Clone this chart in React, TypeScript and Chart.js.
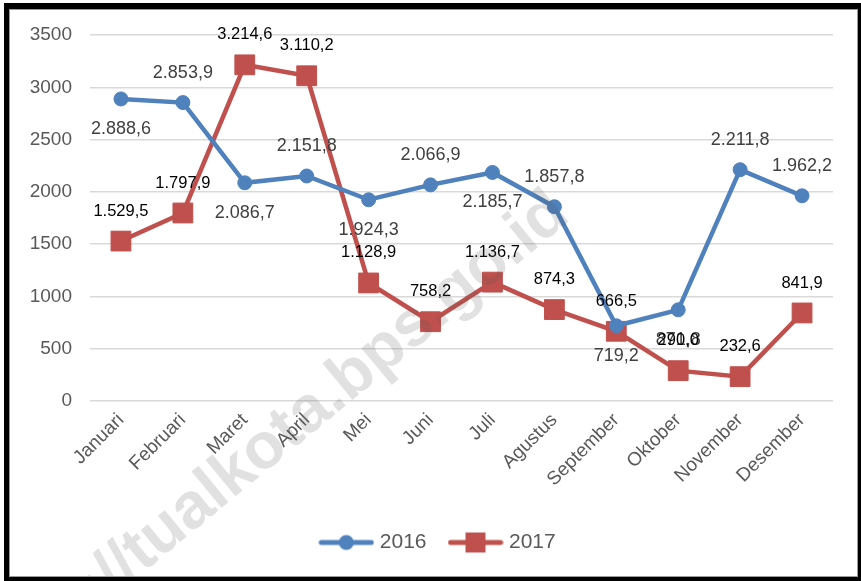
import React, { useEffect, useRef } from 'react';
import { Chart, registerables } from 'chart.js';

Chart.register(...registerables);

const months = ['Januari', 'Februari', 'Maret', 'April', 'Mei', 'Juni', 'Juli', 'Agustus', 'September', 'Oktober', 'November', 'Desember'];
const values2016 = [2888.6, 2853.9, 2086.7, 2151.8, 1924.3, 2066.9, 2185.7, 1857.8, 719.2, 871.8, 2211.8, 1962.2];
const values2017 = [1529.5, 1797.9, 3214.6, 3110.2, 1128.9, 758.2, 1136.7, 874.3, 666.5, 290.0, 232.6, 841.9];
const labelSide2016 = ['below', 'above', 'below', 'above', 'below', 'above', 'below', 'above', 'below', 'below', 'above', 'above'];
const labelSide2017 = ['above', 'above', 'above', 'above', 'above', 'above', 'above', 'above', 'above', 'above', 'above', 'above'];
const yMin = 0;
const yMax = 3500;
const yStep = 500;
const watermarkText = 'https://tualkota.bps.go.id';

const BLUE = '#4F81BD';
const RED = '#C0504D';
const FONT = "'Liberation Sans', Arial, sans-serif";

function formatId(v: number): string {
  const [intPart, dec] = v.toFixed(1).split('.');
  const withDots = intPart.replace(/\B(?=(\d{3})+(?!\d))/g, '.');
  return withDots + ',' + dec;
}

function makeIcon(color: string, shape: 'circle' | 'rect'): HTMLCanvasElement {
  const c = document.createElement('canvas');
  c.width = 56;
  c.height = 22;
  const ctx = c.getContext('2d')!;
  ctx.strokeStyle = color;
  ctx.fillStyle = color;
  ctx.lineWidth = 5;
  ctx.lineCap = 'round';
  ctx.beginPath();
  ctx.moveTo(3, 11);
  ctx.lineTo(53, 11);
  ctx.stroke();
  if (shape === 'circle') {
    ctx.beginPath();
    ctx.arc(28, 11, 7.5, 0, Math.PI * 2);
    ctx.fill();
  } else {
    ctx.fillRect(18, 1, 20, 20);
  }
  return c;
}

export default function App() {
  const canvasRef = useRef<HTMLCanvasElement | null>(null);

  useEffect(() => {
    const canvas = canvasRef.current;
    if (!canvas) return;
    const icons = [makeIcon(BLUE, 'circle'), makeIcon(RED, 'rect')];
    const sides = [labelSide2016, labelSide2017];
    const labelStyles = [
      { color: '#404040', font: `18px ${FONT}` },
      { color: '#000000', font: `16.5px ${FONT}` },
    ];

    const dataLabelPlugin = {
      id: 'dataLabels',
      afterDatasetsDraw(chart: any) {
        const ctx = chart.ctx;
        ctx.save();
        chart.data.datasets.forEach((ds: any, di: number) => {
          const meta = chart.getDatasetMeta(di);
          meta.data.forEach((pt: any, i: number) => {
            const v = ds.data[i];
            const off = sides[di][i] === 'above' ? -30 : 30;
            ctx.font = labelStyles[di].font;
            ctx.fillStyle = labelStyles[di].color;
            ctx.textAlign = 'center';
            ctx.textBaseline = 'middle';
            ctx.fillText(formatId(v), pt.x, pt.y + off);
          });
        });
        ctx.restore();
      },
    };

    const legendShiftPlugin = {
      id: 'legendShift',
      afterLayout(chart: any) {
        const lg = chart.legend;
        if (lg) {
          lg.left += 23;
          lg.right += 23;
        }
      },
    };

    const watermarkPlugin = {
      id: 'watermark',
      afterDraw(chart: any) {
        const ctx = chart.ctx;
        ctx.save();
        ctx.translate(572, 219);
        ctx.rotate((-39.5 * Math.PI) / 180);
        ctx.font = `bold 65px ${FONT}`;
        ctx.fillStyle = 'rgba(90,90,90,0.18)';
        ctx.textAlign = 'right';
        ctx.textBaseline = 'alphabetic';
        ctx.fillText(watermarkText, 0, 0);
        ctx.restore();
      },
    };

    const chart = new Chart(canvas, {
      type: 'line',
      data: {
        labels: months,
        datasets: [
          {
            label: '2016',
            data: values2016,
            borderColor: BLUE,
            backgroundColor: BLUE,
            borderWidth: 4.5,
            pointStyle: 'circle',
            pointRadius: 7,
            pointBorderWidth: 1,
            pointBackgroundColor: BLUE,
            pointBorderColor: BLUE,
            tension: 0,
          },
          {
            label: '2017',
            data: values2017,
            borderColor: RED,
            backgroundColor: RED,
            borderWidth: 4.5,
            pointStyle: 'rect',
            pointRadius: 14,
            pointBorderWidth: 1,
            pointBackgroundColor: RED,
            pointBorderColor: RED,
            tension: 0,
          },
        ],
      },
      options: {
        animation: false,
        responsive: false,
        maintainAspectRatio: false,
        layout: { padding: { left: 0, right: 28, top: 35, bottom: 18 } },
        plugins: {
          tooltip: { enabled: false },
          legend: {
            position: 'bottom',
            labels: {
              usePointStyle: true,
              pointStyleWidth: 46,
              padding: 26,
              color: '#595959',
              font: { size: 21, family: FONT },
              generateLabels: (ch: any) =>
                ch.data.datasets.map((ds: any, i: number) => ({
                  text: ds.label,
                  pointStyle: icons[i],
                  fillStyle: ds.borderColor,
                  strokeStyle: ds.borderColor,
                  lineWidth: 0,
                  hidden: false,
                  datasetIndex: i,
                  fontColor: '#595959',
                })),
            },
          },
        },
        scales: {
          x: {
            offset: true,
            grid: { display: false, drawTicks: false },
            border: { display: false },
            ticks: {
              maxRotation: 45,
              minRotation: 45,
              autoSkip: false,
              padding: 8,
              color: '#595959',
              font: { size: 19, family: FONT },
            },
            afterFit: (s: any) => {
              s.height = 105;
            },
          },
          y: {
            min: yMin,
            max: yMax,
            grid: { color: '#d9d9d9', lineWidth: 1.5, drawTicks: false },
            border: { display: false },
            ticks: {
              stepSize: yStep,
              padding: 18,
              color: '#595959',
              font: { size: 19, family: FONT },
              callback: (v: any) => String(v),
            },
            afterFit: (s: any) => {
              s.width = 90;
            },
          },
        },
      },
      plugins: [dataLabelPlugin, legendShiftPlugin, watermarkPlugin],
    } as any);

    return () => chart.destroy();
  }, []);

  return (
    <div style={{ position: 'fixed', left: 0, top: 0, width: 861, height: 581, background: '#fff' }}>
      <canvas ref={canvasRef} width={861} height={581} style={{ position: 'absolute', left: 0, top: 0, width: 861, height: 581 }} />
      <div
        style={{
          position: 'absolute',
          left: 4,
          top: 3,
          right: 0,
          bottom: 0,
          borderLeft: '5px solid #000',
          borderTop: '6px solid #000',
          borderRight: '3px solid #000',
          borderBottom: '4px solid #000',
          boxShadow: 'inset 0 0 0 1px #9a9a9a',
          pointerEvents: 'none',
        }}
      />
    </div>
  );
}
